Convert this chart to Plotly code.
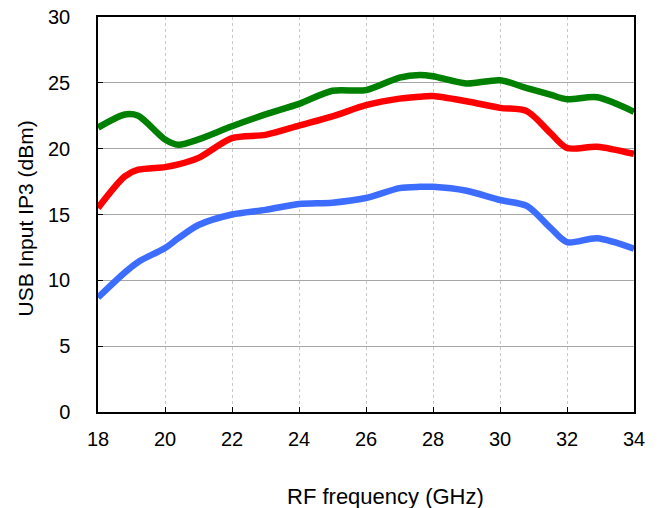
import plotly.graph_objects as go

# RF frequency sweep (GHz)
freq = [18, 18.8, 19.2, 20, 20.4, 21, 22, 23, 24, 25, 26, 27, 27.6, 28, 29, 30, 30.8, 31.5, 32, 32.9, 34]

# USB input IP3 (dBm) for the three bias conditions
ip3_green = [21.6, 22.6, 22.5, 20.7, 20.3, 20.7, 21.7, 22.6, 23.4, 24.4, 24.45, 25.4, 25.6, 25.5, 24.95, 25.2, 24.6, 24.1, 23.75, 23.9, 22.8]
ip3_red = [15.5, 17.9, 18.4, 18.6, 18.8, 19.3, 20.8, 21.05, 21.75, 22.45, 23.3, 23.8, 23.95, 24.0, 23.6, 23.1, 22.85, 21.2, 20.05, 20.15, 19.6]
ip3_blue = [8.7, 10.6, 11.4, 12.45, 13.2, 14.2, 15.0, 15.35, 15.8, 15.9, 16.25, 17.0, 17.1, 17.1, 16.8, 16.1, 15.65, 14.0, 12.9, 13.2, 12.4]

x_ticks = [18, 20, 22, 24, 26, 28, 30, 32, 34]
y_ticks = [0, 5, 10, 15, 20, 25, 30]

x_title = "RF frequency (GHz)"
y_title = "USB Input IP3 (dBm)"

fig = go.Figure()
for ys, col in [(ip3_blue, "#3c6dff"), (ip3_red, "#ff0000"), (ip3_green, "#008000")]:
    fig.add_trace(go.Scatter(
        x=freq, y=ys, mode="lines",
        line=dict(color=col, width=6.5, shape="spline", smoothing=0.8),
        showlegend=False, hoverinfo="x+y",
    ))

font_family = "Liberation Sans, Arial, sans-serif"

fig.update_layout(
    width=660, height=508,
    margin=dict(l=98, r=26, t=17, b=96, autoexpand=False),
    paper_bgcolor="white", plot_bgcolor="white",
    font=dict(family=font_family, size=20, color="black"),
)
fig.update_xaxes(
    range=[18, 34], tickvals=x_ticks, ticks="inside", ticklen=5, tickcolor="black",
    showline=True, linecolor="black", linewidth=1.5, mirror=True,
    showgrid=True, gridcolor="#c8c8c8", gridwidth=1, griddash="dot",
    zeroline=False, ticklabelstandoff=8, automargin=False,
    tickfont=dict(size=20),
)
fig.update_yaxes(
    range=[0, 30], tickvals=y_ticks, ticks="inside", ticklen=5, tickcolor="black",
    showline=True, linecolor="black", linewidth=1.5, mirror=True,
    showgrid=True, gridcolor="#a6a6a6", gridwidth=1.2,
    zeroline=False, ticklabelstandoff=22, automargin=False,
    tickfont=dict(size=20),
)

# Axis titles placed as paper-anchored annotations
fig.add_annotation(
    text=x_title, xref="paper", yref="paper", x=0.537, y=0,
    xanchor="center", yanchor="middle", yshift=-84, showarrow=False,
    font=dict(size=22),
)
fig.add_annotation(
    text=y_title, xref="paper", yref="paper", x=0, y=0.49,
    xanchor="center", yanchor="middle", xshift=-73, textangle=-90, showarrow=False,
    font=dict(size=21),
)

fig.write_html("out.html")
